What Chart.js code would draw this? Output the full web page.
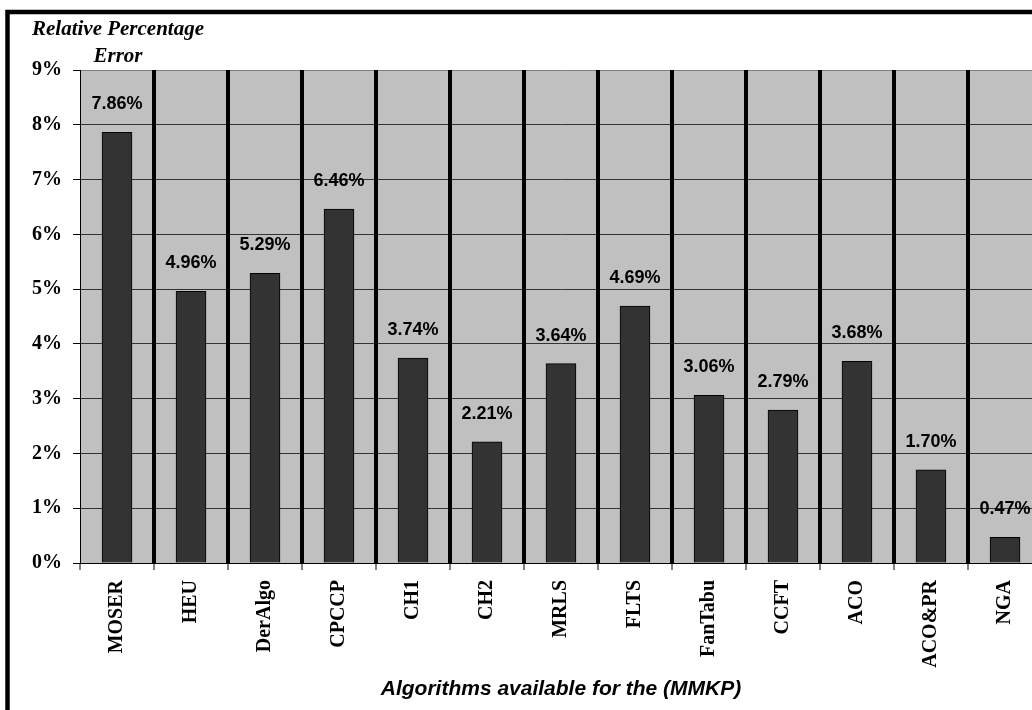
<!DOCTYPE html>
<html>
<head>
<meta charset="utf-8">
<script src="https://cdn.jsdelivr.net/npm/chart.js@4/dist/chart.umd.min.js"></script>
<style>
  html, body { margin: 0; padding: 0; background: #ffffff; overflow: hidden; }
  #wrap { position: absolute; left: 0; top: 0; width: 1060px; height: 720px; }
</style>
</head>
<body>
<div id="wrap"><canvas id="chart" width="1060" height="720"></canvas></div>
<script>
// Relative percentage error of each MMKP algorithm
const algorithms = ['MOSER', 'HEU', 'DerAlgo', 'CPCCP', 'CH1', 'CH2', 'MRLS',
                    'FLTS', 'FanTabu', 'CCFT', 'ACO', 'ACO&PR', 'NGA'];
const errorPercent = [7.86, 4.96, 5.29, 6.46, 3.74, 2.21, 3.64,
                      4.69, 3.06, 2.79, 3.68, 1.70, 0.47];
const yTickLabels = ['0%', '1%', '2%', '3%', '4%', '5%', '6%', '7%', '8%', '9%'];
const yAxisCaption = ['Relative Percentage', 'Error'];
const xAxisCaption = 'Algorithms available for the (MMKP)';

const serif = '"Liberation Serif", "Times New Roman", serif';
const sans = '"Liberation Sans", Arial, sans-serif';

// Frame, grey plot area and the two-line y caption
const framePlugin = {
  id: 'frame',
  beforeDraw(chart) {
    const { ctx, chartArea: a } = chart;
    ctx.save();
    ctx.fillStyle = '#ffffff';
    ctx.fillRect(0, 0, chart.width, chart.height);
    ctx.lineWidth = 4.5;
    ctx.strokeStyle = '#000000';
    ctx.strokeRect(7.5, 12, 1045, 705);
    ctx.fillStyle = '#c0c0c0';
    ctx.fillRect(a.left, a.top, a.right - a.left, a.bottom - a.top);
    ctx.restore();
  },
  afterDraw(chart) {
    const { ctx } = chart;
    ctx.save();
    ctx.fillStyle = '#000000';
    ctx.font = 'italic bold 21px ' + serif;
    ctx.textAlign = 'center';
    ctx.textBaseline = 'middle';
    ctx.fillText(yAxisCaption[0], 118, 30);
    ctx.fillText(yAxisCaption[1], 118, 57);
    ctx.restore();
  }
};

// Value labels above each bar
const valueLabelPlugin = {
  id: 'valueLabels',
  afterDatasetsDraw(chart) {
    const { ctx } = chart;
    const meta = chart.getDatasetMeta(0);
    const values = chart.data.datasets[0].data;
    ctx.save();
    ctx.fillStyle = '#000000';
    ctx.font = 'bold 18px ' + sans;
    ctx.textAlign = 'center';
    ctx.textBaseline = 'middle';
    meta.data.forEach((bar, i) => {
      ctx.fillText(values[i].toFixed(2) + '%', bar.x, bar.y - 28);
    });
    ctx.restore();
  }
};

new Chart(document.getElementById('chart'), {
  type: 'bar',
  data: {
    labels: algorithms,
    datasets: [{
      data: errorPercent,
      backgroundColor: '#333333',
      borderColor: '#000000',
      borderWidth: 1,
      borderSkipped: 'bottom',
      barThickness: 30
    }]
  },
  options: {
    responsive: false,
    devicePixelRatio: 1,
    animation: false,
    layout: { padding: { left: 0, top: 70, right: 18, bottom: 0 } },
    plugins: {
      legend: { display: false },
      tooltip: { enabled: false },
      title: { display: false }
    },
    scales: {
      x: {
        offset: true,
        afterFit(scale) { scale.height = 157; },
        grid: {
          offset: true,
          z: -1,
          color: '#000000',
          lineWidth: (c) => (c.index === 0 ? 0 : 4),
          tickColor: '#000000',
          tickWidth: 1,
          tickLength: 7,
          drawTicks: true
        },
        border: { display: true, color: '#000000', width: 1 },
        ticks: {
          autoSkip: false,
          minRotation: 90,
          maxRotation: 90,
          padding: 10,
          color: '#000000',
          font: { family: serif, size: 20, weight: 'bold' }
        },
        title: {
          display: true,
          text: xAxisCaption,
          color: '#000000',
          font: { family: sans, size: 21, weight: 'bold', style: 'italic' },
          padding: { top: 0, bottom: 18 }
        }
      },
      y: {
        min: 0,
        max: 9,
        afterFit(scale) { scale.width = 80; },
        grid: {
          z: -2,
          color: (c) => (c.index === yTickLabels.length - 1 ? '#808080' : '#333333'),
          lineWidth: 1,
          tickColor: '#000000',
          tickLength: 7,
          drawTicks: true
        },
        border: { display: true, color: '#000000', width: 1 },
        ticks: {
          stepSize: 1,
          padding: 11,
          color: '#000000',
          font: { family: serif, size: 20, weight: 'bold' },
          callback: (v, i) => yTickLabels[i]
        }
      }
    }
  },
  plugins: [framePlugin, valueLabelPlugin]
});
</script>
</body>
</html>
